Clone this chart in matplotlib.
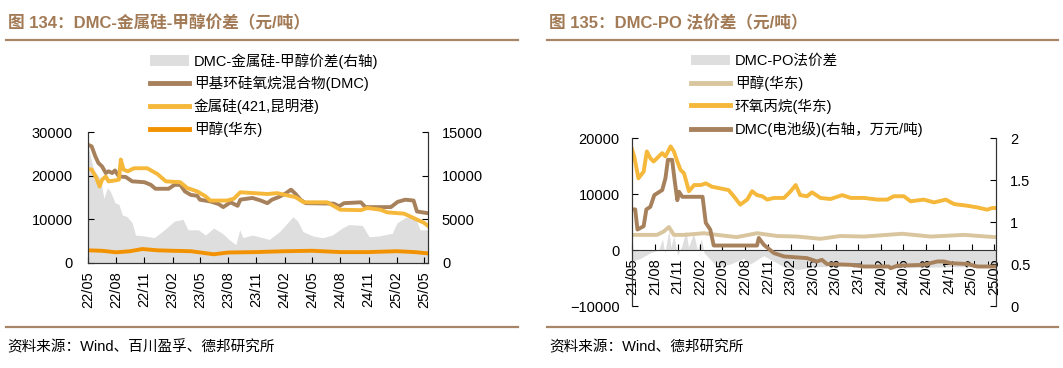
import matplotlib
matplotlib.use("Agg")
import matplotlib.pyplot as plt
import matplotlib.dates as mdates
from matplotlib.patches import Patch
from matplotlib.lines import Line2D
import pandas as pd

plt.rcParams["font.family"] = ["Liberation Sans", "Noto Sans CJK SC"]

# ---- 图134 数据 (元/吨) ----
dmc_134 = [
    ("2022-05-01", 27100), ("2022-05-13", 26700), ("2022-05-25", 24400), ("2022-06-04", 22900),
    ("2022-06-16", 22100), ("2022-06-28", 20600), ("2022-07-07", 21000), ("2022-07-19", 20600),
    ("2022-07-28", 21200), ("2022-08-10", 19800), ("2022-09-01", 19700), ("2022-09-22", 18700),
    ("2022-11-01", 18500), ("2022-11-22", 17900), ("2022-12-07", 17000), ("2023-01-19", 17000),
    ("2023-02-07", 17900), ("2023-02-26", 17900), ("2023-03-13", 16400), ("2023-04-01", 15600),
    ("2023-04-22", 15400), ("2023-05-01", 14500), ("2023-06-04", 14100), ("2023-07-01", 13500),
    ("2023-07-16", 12800), ("2023-08-09", 13900), ("2023-09-01", 13100), ("2023-09-10", 14500),
    ("2023-10-19", 14900), ("2023-11-16", 14300), ("2023-12-07", 13700), ("2023-12-22", 14500),
    ("2024-01-13", 15100), ("2024-02-04", 15900), ("2024-02-22", 16800), ("2024-03-07", 15900),
    ("2024-03-24", 14500), ("2024-04-10", 13700), ("2024-07-10", 13600), ("2024-07-28", 13000),
    ("2024-08-13", 13700), ("2024-10-07", 13900), ("2024-10-22", 12800), ("2025-01-13", 12800),
    ("2025-02-04", 14000), ("2025-03-01", 14500), ("2025-03-28", 14300), ("2025-04-08", 11800),
    ("2025-05-14", 11400),
]
silicon_134 = [
    ("2022-05-01", 21500), ("2022-05-13", 21400), ("2022-05-28", 19500), ("2022-06-08", 17500),
    ("2022-06-16", 19100), ("2022-06-28", 19800), ("2022-07-07", 18700), ("2022-07-28", 18900),
    ("2022-08-10", 19100), ("2022-08-16", 23700), ("2022-08-25", 21400), ("2022-09-08", 21000),
    ("2022-09-28", 21700), ("2022-11-10", 21700), ("2022-12-13", 20400), ("2023-01-10", 18700),
    ("2023-02-26", 18500), ("2023-03-20", 17200), ("2023-04-22", 16400), ("2023-05-19", 15300),
    ("2023-06-04", 14300), ("2023-07-28", 14300), ("2023-08-19", 14700), ("2023-09-10", 16200),
    ("2023-10-24", 16000), ("2023-12-07", 15800), ("2024-01-08", 16000), ("2024-02-22", 15300),
    ("2024-03-07", 15100), ("2024-04-04", 13900), ("2024-06-19", 13900), ("2024-07-22", 12600),
    ("2024-08-01", 12200), ("2024-10-07", 12100), ("2024-10-28", 12600), ("2024-12-10", 12200),
    ("2025-01-01", 11600), ("2025-02-25", 11300), ("2025-03-28", 10300), ("2025-05-01", 9200),
    ("2025-05-14", 8500),
]
methanol_134 = [
    ("2022-05-01", 2900), ("2022-06-15", 2800), ("2022-08-01", 2450), ("2022-09-15", 2700),
    ("2022-10-25", 3200), ("2022-12-15", 2900), ("2023-02-01", 2800), ("2023-04-01", 2700),
    ("2023-06-15", 2000), ("2023-08-01", 2400), ("2023-11-01", 2500), ("2024-02-01", 2700),
    ("2024-05-01", 2800), ("2024-08-01", 2500), ("2024-11-01", 2500), ("2025-02-01", 2700),
    ("2025-04-01", 2500), ("2025-05-14", 2200),
]
spread_134 = [  # 右轴
    ("2022-05-01", 13400), ("2022-05-19", 10700), ("2022-06-10", 9700), ("2022-06-22", 7400),
    ("2022-07-03", 8600), ("2022-07-13", 8200), ("2022-07-28", 6900), ("2022-08-10", 6700),
    ("2022-08-21", 5500), ("2022-09-06", 5300), ("2022-09-22", 4600), ("2022-10-03", 3200),
    ("2022-11-01", 3100), ("2022-12-03", 2900), ("2023-01-05", 3800), ("2023-02-07", 4800),
    ("2023-03-07", 5000), ("2023-03-23", 3800), ("2023-04-26", 3800), ("2023-05-19", 3200),
    ("2023-06-15", 4000), ("2023-07-13", 3400), ("2023-08-04", 2700), ("2023-08-26", 2100),
    ("2023-09-08", 3800), ("2023-09-18", 2900), ("2023-10-19", 3200), ("2023-11-22", 2900),
    ("2023-12-13", 2700), ("2024-01-16", 3600), ("2024-02-16", 4800), ("2024-02-28", 5300),
    ("2024-03-15", 4800), ("2024-04-01", 3600), ("2024-05-03", 3100), ("2024-06-04", 2900),
    ("2024-07-06", 3200), ("2024-08-07", 4000), ("2024-08-29", 4400), ("2024-10-12", 4300),
    ("2024-11-03", 3000), ("2024-12-05", 3100), ("2025-01-17", 3400), ("2025-02-02", 4600),
    ("2025-03-01", 5200), ("2025-04-02", 5300), ("2025-04-18", 3800), ("2025-05-14", 3800),
]

# ---- 图135 数据 ----
po_135 = [
    ("2021-05-01", 18000), ("2021-05-10", 16700), ("2021-05-27", 12800), ("2021-06-17", 14000),
    ("2021-06-30", 17600), ("2021-07-14", 16400), ("2021-07-27", 15800), ("2021-08-17", 16700),
    ("2021-08-31", 17300), ("2021-09-13", 16700), ("2021-10-04", 18500), ("2021-10-17", 17600),
    ("2021-10-31", 15800), ("2021-11-13", 14300), ("2021-11-27", 13700), ("2021-12-17", 10500),
    ("2022-01-07", 11600), ("2022-02-03", 11600), ("2022-02-23", 11900), ("2022-03-20", 11300),
    ("2022-04-23", 11000), ("2022-05-26", 10700), ("2022-06-16", 9600), ("2022-07-12", 8100),
    ("2022-08-09", 9000), ("2022-08-29", 10500), ("2022-09-18", 9800), ("2022-10-09", 9600),
    ("2022-10-29", 9000), ("2022-11-25", 9300), ("2023-01-05", 9300), ("2023-02-01", 10500),
    ("2023-02-21", 11600), ("2023-03-11", 9800), ("2023-04-08", 9600), ("2023-04-28", 10300),
    ("2023-06-01", 9300), ("2023-07-11", 9100), ("2023-08-28", 9800), ("2023-10-01", 9300),
    ("2023-11-24", 9300), ("2024-01-17", 9000), ("2024-02-26", 9000), ("2024-03-23", 9600),
    ("2024-05-03", 9600), ("2024-05-30", 8700), ("2024-07-22", 9000), ("2024-09-02", 8500),
    ("2024-10-19", 9000), ("2024-11-22", 8200), ("2025-01-15", 7900), ("2025-02-24", 7600),
    ("2025-04-04", 7200), ("2025-04-25", 7500), ("2025-05-09", 7500),
]
methanol_135 = [
    ("2021-05-01", 2700), ("2021-08-10", 2700), ("2021-09-06", 3300), ("2021-09-27", 4100),
    ("2021-10-17", 2700), ("2021-11-27", 2700), ("2022-02-16", 3000), ("2022-04-10", 2700),
    ("2022-06-28", 2300), ("2022-09-18", 3000), ("2022-12-08", 2500), ("2023-02-28", 2400),
    ("2023-06-01", 2000), ("2023-08-21", 2500), ("2023-11-24", 2400), ("2024-04-26", 2900),
    ("2024-08-19", 2400), ("2025-01-01", 2700), ("2025-04-04", 2400), ("2025-05-09", 2300),
]
dmc_135 = [  # 右轴, 万元/吨
    ("2021-05-01", 1.15), ("2021-05-14", 1.15), ("2021-05-23", 0.91), ("2021-06-17", 0.95),
    ("2021-06-28", 1.15), ("2021-07-14", 1.18), ("2021-07-30", 1.32), ("2021-08-31", 1.38),
    ("2021-09-13", 1.52), ("2021-09-23", 1.74), ("2021-10-10", 1.74), ("2021-10-20", 1.50),
    ("2021-10-31", 1.26), ("2021-11-07", 1.36), ("2021-11-20", 1.30), ("2022-02-10", 1.30),
    ("2022-02-23", 0.99), ("2022-03-13", 0.91), ("2022-03-27", 0.72), ("2022-09-18", 0.72),
    ("2022-09-25", 0.81), ("2022-10-15", 0.73), ("2022-11-25", 0.63), ("2023-01-05", 0.59),
    ("2023-04-08", 0.57), ("2023-05-18", 0.53), ("2023-06-07", 0.55), ("2023-06-27", 0.50),
    ("2023-10-01", 0.49), ("2023-11-24", 0.47), ("2024-03-03", 0.47), ("2024-03-10", 0.45),
    ("2024-04-07", 0.48), ("2024-07-22", 0.49), ("2024-09-15", 0.53), ("2024-10-12", 0.53),
    ("2024-11-08", 0.51), ("2025-01-15", 0.50), ("2025-02-24", 0.47), ("2025-05-09", 0.47),
]
spread_135 = [
    ("2021-05-01", -2000), ("2021-06-04", -1500), ("2021-07-14", -500), ("2021-08-17", 0),
    ("2021-09-01", 2000), ("2021-09-10", -500), ("2021-09-27", 3500), ("2021-10-05", 500),
    ("2021-10-17", 2500), ("2021-11-01", -1000), ("2021-11-20", 1000), ("2021-12-05", 3500),
    ("2021-12-15", 500), ("2022-01-05", 3000), ("2022-01-20", 0), ("2022-02-05", 2000),
    ("2022-02-16", -500), ("2022-03-20", -2000), ("2022-04-09", -3000), ("2022-06-02", -2500),
    ("2022-07-26", -1500), ("2022-08-22", -2500), ("2022-10-15", -1000), ("2022-11-25", -2000),
    ("2023-01-05", -3000), ("2023-02-28", -3500), ("2023-05-04", -3000), ("2023-09-17", -2800),
    ("2024-04-06", -3200), ("2024-10-25", -3000), ("2025-05-09", -3000),
]

W, H = 1063, 368
BROWN = "#A7815C"
YELLOW = "#F5B83A"
ORANGE = "#F39200"
TAN = "#D9C59E"
GREY = "#DEDEDE"
TITLE_C = "#A27A55"
RULE_C = "#A88567"


def xy(pairs):
    return pd.to_datetime([d for d, _ in pairs]), [v for _, v in pairs]


def box(x0, y0, x1, y1):
    return [x0 / W, 1 - y1 / H, (x1 - x0) / W, (y1 - y0) / H]


def style_axes(ax):
    ax.tick_params(direction="in", length=4, width=0.8, labelsize=10.5, colors="black")
    for s in ax.spines.values():
        s.set_color("#333333")
        s.set_linewidth(0.8)
    ax.spines["top"].set_visible(False)


fig = plt.figure(figsize=(W / 100, H / 100), dpi=100)

# titles, rules and sources
for x, title in [(8, "图 134：DMC-金属硅-甲醇价差（元/吨）"), (549, "图 135：DMC-PO 法价差（元/吨）")]:
    fig.text(x / W, 1 - 23 / H, title, fontsize=12, fontweight="bold", color=TITLE_C, va="center")
for x0, x1 in [(6, 518), (547, 1058)]:
    for y in (40, 327):
        fig.add_artist(Line2D([x0 / W, x1 / W], [1 - y / H, 1 - y / H], color=RULE_C, lw=1.6))
fig.text(7 / W, 1 - 347 / H, "资料来源：Wind、百川盈孚、德邦研究所", fontsize=10.5, va="center")
fig.text(549 / W, 1 - 347 / H, "资料来源：Wind、德邦研究所", fontsize=10.5, va="center")

# ---- left chart ----
ax = fig.add_axes(box(88, 132, 428, 263))
ax2 = ax.twinx()
d, v = xy(spread_134)
ax2.fill_between(d, 0, v, color=GREY, lw=0)
ax.set_zorder(ax2.get_zorder() + 1)
ax.patch.set_visible(False)
for data, c in [(dmc_134, BROWN), (silicon_134, YELLOW), (methanol_134, ORANGE)]:
    d, v = xy(data)
    ax.plot(d, v, color=c, lw=2.8, solid_joinstyle="round")
ax.set_ylim(0, 30000)
ax.set_yticks([0, 10000, 20000, 30000])
ax2.set_ylim(0, 15000)
ax2.set_yticks([0, 5000, 10000, 15000])
ax.set_xlim(pd.Timestamp("2022-05-01"), pd.Timestamp("2025-05-14"))
for a in (ax, ax2):
    style_axes(a)
ax.tick_params(axis="y", pad=11)
ax2.tick_params(axis="y", pad=10)
ax.xaxis.set_major_locator(mdates.MonthLocator(bymonth=[2, 5, 8, 11]))
ax.xaxis.set_major_formatter(mdates.DateFormatter("%y/%m"))
ax.tick_params(axis="x", rotation=90, pad=6)

handles = [
    Patch(facecolor=GREY, edgecolor="none"),
    Line2D([], [], color=BROWN, lw=3.5),
    Line2D([], [], color=YELLOW, lw=3.5),
    Line2D([], [], color=ORANGE, lw=3.5),
]
labels = ["DMC-金属硅-甲醇价差(右轴)", "甲基环硅氧烷混合物(DMC)", "金属硅(421,昆明港)", "甲醇(华东)"]
fig.legend(handles, labels, loc="upper left", bbox_to_anchor=(150 / W, 1 - 53 / H),
           frameon=False, fontsize=10.5, handlelength=2.7, handletextpad=0.3,
           labelspacing=0.5, borderpad=0, borderaxespad=0)

# ---- right chart ----
bx = fig.add_axes(box(632, 138, 996, 306))
bx2 = bx.twinx()
d, v = xy(spread_135)
bx.fill_between(d, 0, v, color=GREY, lw=0)
for data, c in [(methanol_135, TAN), (po_135, YELLOW)]:
    d, v = xy(data)
    bx.plot(d, v, color=c, lw=2.8, solid_joinstyle="round")
d, v = xy(dmc_135)
bx2.plot(d, v, color=BROWN, lw=2.8, solid_joinstyle="round")
bx.set_ylim(-10000, 20000)
bx.set_yticks([-10000, 0, 10000, 20000])
bx2.set_ylim(0, 2)
bx2.set_yticks([0, 0.5, 1, 1.5, 2])
bx2.set_yticklabels(["0", "0.5", "1", "1.5", "2"])
bx.set_xlim(pd.Timestamp("2021-05-01"), pd.Timestamp("2025-05-10"))
for a in (bx, bx2):
    style_axes(a)
    a.spines["bottom"].set_visible(False)
bx.spines["bottom"].set_visible(True)
bx.spines["bottom"].set_position(("data", 0))
bx.tick_params(axis="y", pad=9)
bx2.tick_params(axis="y", pad=10)
bx.xaxis.set_major_locator(mdates.MonthLocator(bymonth=[2, 5, 8, 11]))
bx.xaxis.set_major_formatter(mdates.DateFormatter("%y/%m"))
bx.tick_params(axis="x", rotation=90, pad=6)

handles = [
    Patch(facecolor=GREY, edgecolor="none"),
    Line2D([], [], color=TAN, lw=3.5),
    Line2D([], [], color=YELLOW, lw=3.5),
    Line2D([], [], color=BROWN, lw=3.5),
]
labels = ["DMC-PO法价差", "甲醇(华东)", "环氧丙烷(华东)", "DMC(电池级)(右轴，万元/吨)"]
fig.legend(handles, labels, loc="upper left", bbox_to_anchor=(691 / W, 1 - 54 / H),
           frameon=False, fontsize=10.5, handlelength=2.7, handletextpad=0.3,
           labelspacing=0.5, borderpad=0, borderaxespad=0)

fig.savefig("out.png", dpi=100)
plt.close(fig)
